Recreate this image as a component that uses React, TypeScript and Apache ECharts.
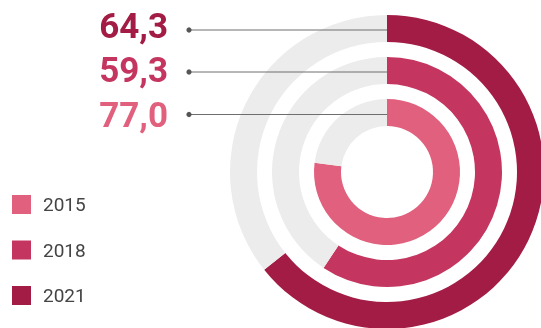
import React, { useEffect, useRef } from "react";
import * as echarts from "echarts";

const years = ["2015", "2018", "2021"];
const values = [77.0, 59.3, 64.3];
const colors = ["#e0607e", "#c43660", "#a31c45"];
const trackColor = "#ececec";
const maxValue = 100;

// ring geometry (inner -> outer), in px
const ringRadii: [number, number][] = [
  [46, 73],
  [88, 115],
  [130, 157],
];
const labelY = [115, 70, 26]; // for 2015, 2018, 2021 text centers
const lineY = [114.5, 72, 30];

export default function App() {
  const ref = useRef<HTMLDivElement>(null);
  useEffect(() => {
    document.body.style.margin = "0";
    const chart = echarts.init(ref.current!, undefined, { renderer: "svg" });
    const cx = 387;
    const cy = 172;
    const series: any[] = years.map((y, i) => ({
      type: "pie",
      name: y,
      color: [colors[i], trackColor],
      center: [cx, cy],
      radius: ringRadii[i],
      startAngle: 90,
      clockwise: true,
      silent: true,
      label: { show: false },
      labelLine: { show: false },
      emphasis: { disabled: true },
      itemStyle: { borderWidth: 0 },
      data: [
        { name: y, value: values[i], itemStyle: { color: colors[i] } },
        { name: "rest" + y, value: maxValue - values[i], itemStyle: { color: trackColor } },
      ],
    }));

    const graphics: any[] = [];
    years.forEach((y, i) => {
      graphics.push({
        type: "line",
        shape: { x1: 189, y1: lineY[i], x2: cx, y2: lineY[i] },
        style: { stroke: "#6e6e6e", lineWidth: 1 },
        z: 10,
      });
      graphics.push({
        type: "circle",
        shape: { cx: 189, cy: lineY[i], r: 2.6 },
        style: { fill: "#555" },
        z: 11,
      });
      graphics.push({
        type: "text",
        x: 168,
        y: labelY[i],
        style: {
          text: values[i].toFixed(1).replace(".", ","),
          fill: colors[i],
          font: "bold 35px Roboto",
          align: "right",
          verticalAlign: "middle",
        },
        z: 12,
      });
    });

    chart.setOption({
      animation: false,
      legend: {
        orient: "vertical",
        left: 7,
        top: 190,
        icon: "rect",
        itemWidth: 19,
        itemHeight: 19,
        itemGap: 26.5,
        selectedMode: false,
        data: years.map((y, i) => ({ name: y, itemStyle: { color: colors[i] } })),
        textStyle: {
          fontFamily: "Roboto",
          fontSize: 19,
          color: "#444",
          padding: [0, 0, 0, 7],
        },
      },
      series,
      graphic: graphics,
    });
    return () => chart.dispose();
  }, []);
  return (
    <div
      ref={ref}
      style={{ width: 541, height: 328, position: "fixed", left: 0, top: 0 }}
    />
  );
}
